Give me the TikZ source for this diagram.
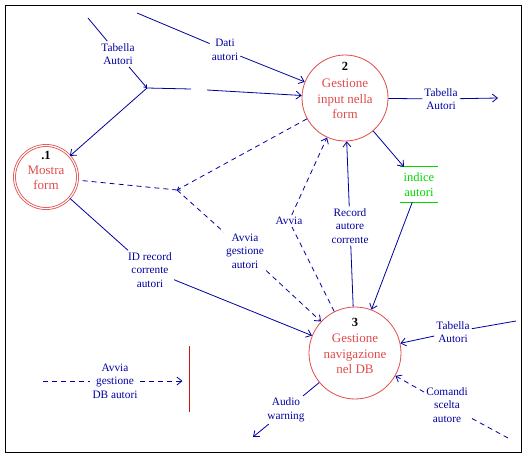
\documentclass[tikz,border=0pt]{standalone}
\usepackage{fontspec}
\setmainfont{Liberation Serif}
\usetikzlibrary{arrows.meta}
\definecolor{dfdblue}{RGB}{0,0,160}
\definecolor{dfdred}{RGB}{225,75,75}
\definecolor{dfdgreen}{RGB}{0,215,0}
\definecolor{stopred}{RGB}{205,20,20}
\begin{document}
\begin{tikzpicture}[x=1pt,y=-1pt,
  flow/.style={draw=dfdblue, line width=0.8pt},
  arr/.style={-{Straight Barb[length=5pt,width=8pt]}},
  tinyarr/.style={-{Straight Barb[length=2.5pt,width=4pt]}},
  dsh/.style={dash pattern=on 5pt off 4pt},
  lbl/.style={text=dfdblue, font=\fontsize{11.3}{13.5}\selectfont, align=center, inner sep=2pt},
  proc/.style={circle, draw=dfdred, line width=0.8pt, inner sep=0pt},
  ptext/.style={text=dfdred, font=\fontsize{13}{15.5}\selectfont, align=center},
  pnum/.style={font=\bfseries\fontsize{12.5}{14}\selectfont, text=black},
]
\useasboundingbox (0,0) rectangle (526,458);
\draw[black, line width=0.9pt] (5,5) rectangle (521,452);

% processes
\node[proc, double=white, double distance=1.2pt, minimum size=63pt] (c1) at (46,177) {};
\node[pnum] (n1) at (46,155) {.1};
\node[ptext] (t1) at (46,178) {Mostra\\form};

\node[proc, minimum size=86pt] (c2) at (345,98) {};
\node[pnum] (n2) at (345,66) {2};
\node[ptext] (t2) at (345,99) {Gestione\\input nella\\form};

\node[proc, minimum size=92pt] (c3) at (355,353) {};
\node[pnum] (n3) at (355,322) {3};
\node[ptext] (t3) at (355,354) {Gestione\\navigazione\\nel DB};

% data store
\node[text=dfdgreen, font=\fontsize{12.5}{15}\selectfont, align=center, minimum width=38pt, minimum height=35pt, inner sep=0pt] (ds) at (419,184.5) {indice\\autori};
\draw[draw=dfdgreen, line width=0.9pt] (ds.north west) -- (ds.north east) (ds.south west) -- (ds.south east);

% red bar
\node[minimum height=66pt, minimum width=0pt, inner sep=0pt] (bar) at (189.5,379) {};
\draw[draw=stopred, line width=1.4pt] (bar.north) -- (bar.south);

% labels
\node[lbl] (lta1) at (118,54) {Tabella\\Autori};
\node[lbl] (ldati) at (225,50) {Dati\\autori};
\node[lbl] (lta2) at (441,99) {Tabella\\Autori};
\node[lbl] (lrec) at (350,226) {Record\\autore\\corrente};
\node[lbl] (lavv) at (289,221) {Avvia};
\node[lbl] (lavg) at (245,251) {Avvia\\gestione\\autori};
\node[lbl] (lid) at (150,270) {ID record\\corrente\\autori};
\node[lbl] (lta3) at (453,332) {Tabella\\Autori};
\node[lbl] (lcom) at (447,405) {Comandi\\scelta\\autore};
\node[lbl] (laud) at (286,410) {Audio\\warning};
\node[lbl] (ldb) at (115,381) {Avvia\\gestione\\DB autori};

% junctions and free ends
\coordinate (j1) at (147,88);
\coordinate (j2) at (177,190);
\coordinate (f1) at (88,18);
\coordinate (f2) at (137,13);
\coordinate (g1) at (191,89);
\coordinate (g2) at (207,90);
\coordinate (out1) at (498,98);
\coordinate (f3) at (516,321);
\coordinate (f4) at (508,438);
\coordinate (out2) at (253,437);
\coordinate (d1) at (43,381);

% flows
\draw[flow] (f1) -- (lta1);
\draw[flow, tinyarr] (lta1) -- (j1);
\draw[flow, arr] (j1) -- (c1);
\draw[flow] (j1) -- (g1);
\draw[flow, arr] (g2) -- (c2);
\draw[flow] (f2) -- (ldati);
\draw[flow, arr] (ldati) -- (c2);
\draw[flow] (c2) -- (lta2);
\draw[flow, arr] (lta2) -- (out1);
\draw[flow, arr] (c2) -- (ds);
\draw[flow, arr] (ds) -- (c3);
\draw[flow] (c3) -- (lrec);
\draw[flow, arr] (lrec) -- (c2);
\draw[flow, dsh] (c3) -- (lavv);
\draw[flow, dsh, arr] (lavv) -- (c2);
\draw[flow, dsh, shorten <=5pt] (c1) -- (j2);
\draw[flow, dsh, tinyarr] (c2) -- (j2);
\draw[flow, dsh] (j2) -- (lavg);
\draw[flow, dsh, arr] (lavg) -- (c3);
\draw[flow] (c1) -- (lid);
\draw[flow, arr] (lid) -- (c3);
\draw[flow] (f3) -- (lta3);
\draw[flow, arr] (lta3) -- (c3);
\draw[flow, dsh] (f4) -- (lcom);
\draw[flow, dsh, arr] (lcom) -- (c3);
\draw[flow] (c3) -- (laud);
\draw[flow, arr] (laud) -- (out2);
\draw[flow, dsh] (d1) -- (ldb);
\draw[flow, dsh, arr, shorten >=7pt] (ldb) -- (ldb -| bar);
\end{tikzpicture}
\end{document}
